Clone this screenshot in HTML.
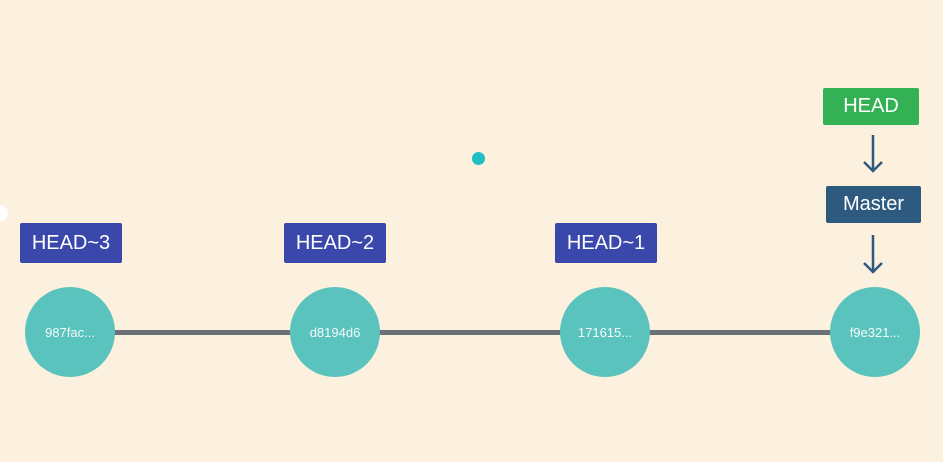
<!DOCTYPE html>
<html><head><meta charset="utf-8"><style>
body{margin:0;width:943px;height:462px;background:#fcf0de;overflow:hidden;position:relative;font-family:"Liberation Sans",sans-serif}
.lab{position:absolute;color:#fff;font-size:20px;display:flex;align-items:center;justify-content:center;border-radius:2px}
.blue{background:#3a48ab}
.c{position:absolute;width:90px;height:90px;border-radius:50%;background:#5ac3bd;color:#f2fbfa;font-size:13px;display:flex;align-items:center;justify-content:center}
</style></head><body>
<div style="position:absolute;left:-8px;top:205px;width:16px;height:16px;border-radius:50%;background:#fff"></div>
<div style="position:absolute;left:70px;top:330px;width:805px;height:5px;background:#6b7079"></div>
<div style="position:absolute;left:472px;top:152px;width:13px;height:13px;border-radius:50%;background:#1fbfc3"></div>
<div class="lab blue" style="left:20px;top:223px;width:102px;height:40px">HEAD~3</div>
<div class="lab blue" style="left:284px;top:223px;width:102px;height:40px">HEAD~2</div>
<div class="lab blue" style="left:555px;top:223px;width:102px;height:40px">HEAD~1</div>
<div class="lab" style="left:823px;top:88px;width:96px;height:37px;background:#34b155">HEAD</div>
<div class="lab" style="left:826px;top:186px;width:95px;height:37px;background:#2f5a7f">Master</div>
<svg style="position:absolute;left:0;top:0" width="943" height="462">
<g stroke="#2f5a7f" stroke-width="2.5" fill="none">
<path d="M873 135V171M864 162L873 171L882 162"/>
<path d="M873 235V272M864 263L873 272L882 263"/>
</g></svg>
<div class="c" style="left:25px;top:287px">987fac...</div>
<div class="c" style="left:290px;top:287px">d8194d6</div>
<div class="c" style="left:560px;top:287px">171615...</div>
<div class="c" style="left:830px;top:287px">f9e321...</div>
</body></html>
